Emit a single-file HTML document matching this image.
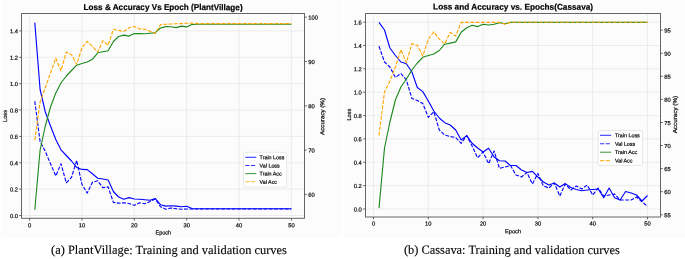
<!DOCTYPE html>
<html><head><meta charset="utf-8"><style>
html,body{margin:0;padding:0;background:#fff;}
body{width:685px;height:259px;overflow:hidden;position:relative;}
svg{position:absolute;left:0;top:0;will-change:transform;text-rendering:geometricPrecision;}
.t{font-family:"Liberation Sans",sans-serif;font-size:5.8px;fill:#111;stroke:#111;stroke-width:0.22px;}
.lg{font-family:"Liberation Sans",sans-serif;font-size:5.35px;fill:#111;stroke:#111;stroke-width:0.22px;}
.ti{font-family:"Liberation Sans",sans-serif;font-size:8.5px;font-weight:bold;fill:#000;stroke:#000;stroke-width:0.2px;}
.al{font-family:"Liberation Sans",sans-serif;font-size:5.8px;fill:#111;stroke:#111;stroke-width:0.22px;}
.cap{font-family:"Liberation Serif",serif;font-size:12.4px;fill:#000;stroke:#000;stroke-width:0.12px;}
</style></head><body>
<svg width="685" height="259" viewBox="0 0 685 259">
<rect x="1" y="0" width="340" height="237.7" fill="#fcfcfc"/><rect x="344" y="0" width="341" height="237.7" fill="#fcfcfc"/>
<path d="M29.6 13.5V218.3 M82.0 13.5V218.3 M134.3 13.5V218.3 M186.7 13.5V218.3 M239.0 13.5V218.3 M291.4 13.5V218.3 M21.5 215.5H304.5 M21.5 189.1H304.5 M21.5 162.8H304.5 M21.5 136.4H304.5 M21.5 110.0H304.5 M21.5 83.7H304.5 M21.5 57.3H304.5 M21.5 30.9H304.5" stroke="#c8c8c8" stroke-width="0.7" stroke-dasharray="0.8 1.2" fill="none"/>
<polyline points="34.8,22.6 40.1,89.5 45.3,112.0 50.5,126.0 55.8,139.5 61.0,149.8 66.3,155.5 71.5,161.0 76.7,167.4 82.0,169.4 87.2,169.6 92.4,173.8 97.7,178.2 102.9,179.0 108.1,180.0 113.4,191.5 118.6,197.0 123.8,199.3 129.1,197.6 134.3,199.0 139.6,199.3 144.8,199.7 150.0,200.3 155.3,198.6 160.5,204.7 165.7,206.1 171.0,205.7 176.2,206.1 181.4,206.7 186.7,206.3 191.9,208.6 197.2,208.8 202.4,208.8 207.6,208.8 212.9,208.8 218.1,208.8 223.3,208.8 228.6,208.8 233.8,208.8 239.0,208.8 244.3,208.8 249.5,208.8 254.7,208.8 260.0,208.8 265.2,208.8 270.5,208.8 275.7,208.8 280.9,208.8 286.2,208.8 291.4,208.8" stroke="#0000ff" stroke-width="1.12" fill="none" stroke-linejoin="round"/>
<polyline points="34.8,101.2 40.1,141.5 45.3,151.4 50.5,163.7 55.8,175.9 61.0,163.8 66.3,182.8 71.5,177.4 76.7,160.4 82.0,184.5 87.2,193.1 92.4,182.3 97.7,180.8 102.9,187.7 108.1,186.9 113.4,202.4 118.6,203.1 123.8,202.8 129.1,203.5 134.3,205.3 139.6,202.8 144.8,203.8 150.0,201.5 155.3,199.0 160.5,206.7 165.7,209.2 171.0,208.0 176.2,208.8 181.4,209.2 186.7,209.0 191.9,209.0 197.2,209.0 202.4,209.0 207.6,209.0 212.9,209.0 218.1,209.0 223.3,209.0 228.6,209.0 233.8,209.0 239.0,209.0 244.3,209.0 249.5,209.0 254.7,209.0 260.0,209.0 265.2,209.0 270.5,209.0 275.7,209.0 280.9,209.0 286.2,209.0 291.4,209.0" stroke="#0000ff" stroke-width="1.12" fill="none" stroke-dasharray="3.8 1.5" stroke-linejoin="round"/>
<polyline points="34.8,209.8 40.1,150.0 45.3,126.0 50.5,107.0 55.8,93.0 61.0,83.0 66.3,76.0 71.5,70.5 76.7,65.2 82.0,63.5 87.2,62.0 92.4,59.3 97.7,52.8 102.9,51.8 108.1,50.7 113.4,41.5 118.6,36.5 123.8,35.1 129.1,36.1 134.3,33.5 139.6,33.6 144.8,33.8 150.0,33.2 155.3,32.6 160.5,28.0 165.7,26.6 171.0,26.8 176.2,27.6 181.4,26.1 186.7,26.9 191.9,24.5 197.2,24.2 202.4,24.2 207.6,24.2 212.9,24.2 218.1,24.2 223.3,24.2 228.6,24.2 233.8,24.2 239.0,24.2 244.3,24.2 249.5,24.2 254.7,24.2 260.0,24.2 265.2,24.2 270.5,24.2 275.7,24.2 280.9,24.2 286.2,24.2 291.4,24.2" stroke="#1c881c" stroke-width="1.12" fill="none" stroke-linejoin="round"/>
<polyline points="34.8,140.1 40.1,102.0 45.3,87.5 50.5,73.0 55.8,58.2 61.0,70.9 66.3,52.0 71.5,54.7 76.7,64.4 82.0,47.7 87.2,41.3 92.4,46.5 97.7,52.0 102.9,40.8 108.1,45.4 113.4,29.2 118.6,30.4 123.8,31.5 129.1,27.7 134.3,26.6 139.6,28.9 144.8,29.2 150.0,31.3 155.3,33.5 160.5,24.6 165.7,24.2 171.0,24.0 176.2,23.8 181.4,23.6 186.7,23.3 191.9,23.0 197.2,23.6 202.4,23.6 207.6,23.6 212.9,23.6 218.1,23.6 223.3,23.6 228.6,23.6 233.8,23.6 239.0,23.6 244.3,23.6 249.5,23.6 254.7,23.6 260.0,23.6 265.2,23.6 270.5,23.6 275.7,23.6 280.9,23.6 286.2,23.6 291.4,23.6" stroke="#ffa500" stroke-width="1.12" fill="none" stroke-dasharray="3.8 1.5" stroke-linejoin="round"/>
<rect x="21.5" y="13.5" width="283.0" height="204.8" fill="none" stroke="#666" stroke-width="1"/>
<path d="M29.6 218.3v2.3 M82.0 218.3v2.3 M134.3 218.3v2.3 M186.7 218.3v2.3 M239.0 218.3v2.3 M291.4 218.3v2.3 M21.5 215.5h-2.3 M21.5 189.1h-2.3 M21.5 162.8h-2.3 M21.5 136.4h-2.3 M21.5 110.0h-2.3 M21.5 83.7h-2.3 M21.5 57.3h-2.3 M21.5 30.9h-2.3 M304.5 17.2h2.3 M304.5 61.5h2.3 M304.5 105.8h2.3 M304.5 150.1h2.3 M304.5 194.4h2.3" stroke="#444" stroke-width="0.8" fill="none"/>
<text transform="translate(29.60 227.30) matrix(1 0.001 0 1 0 0)" class="t" text-anchor="middle">0</text>
<text transform="translate(81.96 227.30) matrix(1 0.001 0 1 0 0)" class="t" text-anchor="middle">10</text>
<text transform="translate(134.32 227.30) matrix(1 0.001 0 1 0 0)" class="t" text-anchor="middle">20</text>
<text transform="translate(186.68 227.30) matrix(1 0.001 0 1 0 0)" class="t" text-anchor="middle">30</text>
<text transform="translate(239.04 227.30) matrix(1 0.001 0 1 0 0)" class="t" text-anchor="middle">40</text>
<text transform="translate(291.40 227.30) matrix(1 0.001 0 1 0 0)" class="t" text-anchor="middle">50</text>
<text transform="translate(18.00 217.90) matrix(1 0.001 0 1 0 0)" class="t" text-anchor="end">0.0</text>
<text transform="translate(18.00 191.53) matrix(1 0.001 0 1 0 0)" class="t" text-anchor="end">0.2</text>
<text transform="translate(18.00 165.16) matrix(1 0.001 0 1 0 0)" class="t" text-anchor="end">0.4</text>
<text transform="translate(18.00 138.79) matrix(1 0.001 0 1 0 0)" class="t" text-anchor="end">0.6</text>
<text transform="translate(18.00 112.42) matrix(1 0.001 0 1 0 0)" class="t" text-anchor="end">0.8</text>
<text transform="translate(18.00 86.05) matrix(1 0.001 0 1 0 0)" class="t" text-anchor="end">1.0</text>
<text transform="translate(18.00 59.68) matrix(1 0.001 0 1 0 0)" class="t" text-anchor="end">1.2</text>
<text transform="translate(18.00 33.31) matrix(1 0.001 0 1 0 0)" class="t" text-anchor="end">1.4</text>
<text transform="translate(308.30 19.60) matrix(1 0.001 0 1 0 0)" class="t">100</text>
<text transform="translate(308.30 63.90) matrix(1 0.001 0 1 0 0)" class="t">90</text>
<text transform="translate(308.30 108.20) matrix(1 0.001 0 1 0 0)" class="t">80</text>
<text transform="translate(308.30 152.50) matrix(1 0.001 0 1 0 0)" class="t">70</text>
<text transform="translate(308.30 196.80) matrix(1 0.001 0 1 0 0)" class="t">60</text>
<rect x="243.5" y="152.3" width="43.1" height="34.8" rx="1.2" fill="#fff" fill-opacity="0.85" stroke="#d8d8d8" stroke-width="0.6"/>
<line x1="245.3" y1="157.3" x2="256.3" y2="157.3" stroke="#0000ff" stroke-opacity="0.8" stroke-width="1.1" />
<text transform="translate(259.60 159.20) matrix(1 0.001 0 1 0 0)" class="lg">Train Loss</text>
<line x1="245.3" y1="165.5" x2="256.3" y2="165.5" stroke="#0000ff" stroke-opacity="0.8" stroke-width="1.1" stroke-dasharray="4.2 1.5"/>
<text transform="translate(259.60 167.40) matrix(1 0.001 0 1 0 0)" class="lg">Val Loss</text>
<line x1="245.3" y1="173.6" x2="256.3" y2="173.6" stroke="#1c881c" stroke-opacity="0.8" stroke-width="1.1" />
<text transform="translate(259.60 175.50) matrix(1 0.001 0 1 0 0)" class="lg">Train Acc</text>
<line x1="245.3" y1="181.8" x2="256.3" y2="181.8" stroke="#ffa500" stroke-opacity="0.8" stroke-width="1.1" stroke-dasharray="4.2 1.5"/>
<text transform="translate(259.60 183.70) matrix(1 0.001 0 1 0 0)" class="lg">Val Acc</text>
<text transform="translate(83.60 10.00) matrix(1 0.001 0 1 0 0)" class="ti" textLength="159.0" lengthAdjust="spacingAndGlyphs">Loss &amp; Accuracy Vs Epoch (PlantVillage)</text>
<text transform="translate(6.90 116.00) rotate(-90) matrix(1 0.001 0 1 0 0)" class="al" text-anchor="middle" textLength="11.9" lengthAdjust="spacingAndGlyphs">Loss</text>
<text transform="translate(163.30 234.60) matrix(1 0.001 0 1 0 0)" class="al" text-anchor="middle" textLength="15.7" lengthAdjust="spacingAndGlyphs">Epoch</text>
<text transform="translate(324.20 116.50) rotate(-90) matrix(1 0.001 0 1 0 0)" class="al" text-anchor="middle" textLength="36.9" lengthAdjust="spacingAndGlyphs">Accuracy (%)</text>
<path d="M373.5 13.5V217.0 M428.3 13.5V217.0 M483.1 13.5V217.0 M537.9 13.5V217.0 M592.7 13.5V217.0 M647.5 13.5V217.0 M365.5 209.0H660.5 M365.5 185.6H660.5 M365.5 162.3H660.5 M365.5 138.9H660.5 M365.5 115.6H660.5 M365.5 92.2H660.5 M365.5 68.8H660.5 M365.5 45.5H660.5 M365.5 22.1H660.5" stroke="#c8c8c8" stroke-width="0.7" stroke-dasharray="0.8 1.2" fill="none"/>
<polyline points="379.0,22.3 384.5,30.0 389.9,48.0 395.4,55.5 400.9,62.0 406.4,63.7 411.9,72.0 417.3,87.5 422.8,91.6 428.3,101.0 433.8,111.0 439.3,118.0 444.7,122.7 450.2,125.0 455.7,130.0 461.2,140.0 466.7,135.6 472.1,143.3 477.6,148.0 483.1,152.0 488.6,148.2 494.1,157.0 499.5,160.7 505.0,161.0 510.5,165.5 516.0,165.5 521.5,170.0 526.9,172.5 532.4,171.4 537.9,177.0 543.4,182.0 548.9,185.0 554.3,183.0 559.8,187.0 565.3,183.6 570.8,187.5 576.3,189.5 581.7,190.7 587.2,190.0 592.7,189.5 598.2,189.0 603.7,197.8 609.1,188.0 614.6,197.8 620.1,200.0 625.6,191.5 631.1,193.0 636.5,195.0 642.0,201.0 647.5,195.5" stroke="#0000ff" stroke-width="1.12" fill="none" stroke-linejoin="round"/>
<polyline points="379.0,46.3 384.5,62.0 389.9,67.0 395.4,77.4 400.9,73.5 406.4,80.0 411.9,98.5 417.3,100.5 422.8,103.5 428.3,117.3 433.8,111.6 439.3,130.0 444.7,135.0 450.2,136.5 455.7,137.5 461.2,143.3 466.7,135.6 472.1,146.0 477.6,157.8 483.1,152.0 488.6,163.6 494.1,151.0 499.5,168.4 505.0,167.0 510.5,165.5 516.0,175.0 521.5,177.0 526.9,172.4 532.4,184.0 537.9,173.4 543.4,186.0 548.9,188.0 554.3,183.0 559.8,196.0 565.3,184.0 570.8,190.0 576.3,186.0 581.7,189.0 587.2,185.0 592.7,195.0 598.2,188.0 603.7,196.0 609.1,195.0 614.6,194.0 620.1,200.0 625.6,200.0 631.1,200.0 636.5,197.0 642.0,201.7 647.5,206.5" stroke="#0000ff" stroke-width="1.12" fill="none" stroke-dasharray="3.8 1.5" stroke-linejoin="round"/>
<polyline points="379.0,208.1 384.5,148.0 389.9,122.0 395.4,100.0 400.9,87.0 406.4,79.0 411.9,70.0 417.3,63.0 422.8,57.3 428.3,55.5 433.8,54.0 439.3,50.5 444.7,44.2 450.2,43.1 455.7,41.9 461.2,32.3 466.7,27.7 472.1,25.3 477.6,26.6 483.1,24.3 488.6,25.0 494.1,24.3 499.5,22.6 505.0,23.8 510.5,22.4 516.0,22.4 521.5,22.4 526.9,22.4 532.4,22.4 537.9,22.4 543.4,22.4 548.9,22.4 554.3,22.4 559.8,22.4 565.3,22.4 570.8,22.4 576.3,22.4 581.7,22.4 587.2,22.4 592.7,22.4 598.2,22.4 603.7,22.4 609.1,22.4 614.6,22.4 620.1,22.4 625.6,22.4 631.1,22.4 636.5,22.4 642.0,22.4 647.5,22.4" stroke="#1c881c" stroke-width="1.12" fill="none" stroke-linejoin="round"/>
<polyline points="379.0,135.5 384.5,92.0 389.9,81.0 395.4,67.0 400.9,49.6 406.4,62.7 411.9,43.6 417.3,45.4 422.8,56.0 428.3,39.2 433.8,31.8 439.3,39.2 444.7,43.9 450.2,32.3 455.7,36.1 461.2,22.4 466.7,22.4 472.1,22.4 477.6,22.4 483.1,22.4 488.6,22.4 494.1,22.4 499.5,22.4 505.0,24.1 510.5,22.3 516.0,22.3 521.5,22.3 526.9,22.3 532.4,22.3 537.9,22.3 543.4,22.3 548.9,22.3 554.3,22.3 559.8,22.3 565.3,22.3 570.8,22.3 576.3,22.3 581.7,22.3 587.2,22.3 592.7,22.3 598.2,22.3 603.7,22.3 609.1,22.3 614.6,22.3 620.1,22.3 625.6,22.3 631.1,22.3 636.5,22.3 642.0,22.3 647.5,22.3" stroke="#ffa500" stroke-width="1.12" fill="none" stroke-dasharray="3.8 1.5" stroke-linejoin="round"/>
<rect x="365.5" y="13.5" width="295.0" height="203.5" fill="none" stroke="#666" stroke-width="1"/>
<path d="M373.5 217.0v2.3 M428.3 217.0v2.3 M483.1 217.0v2.3 M537.9 217.0v2.3 M592.7 217.0v2.3 M647.5 217.0v2.3 M365.5 209.0h-2.3 M365.5 185.6h-2.3 M365.5 162.3h-2.3 M365.5 138.9h-2.3 M365.5 115.6h-2.3 M365.5 92.2h-2.3 M365.5 68.8h-2.3 M365.5 45.5h-2.3 M365.5 22.1h-2.3 M660.5 30.2h2.3 M660.5 53.3h2.3 M660.5 76.3h2.3 M660.5 99.4h2.3 M660.5 122.5h2.3 M660.5 145.5h2.3 M660.5 168.6h2.3 M660.5 191.7h2.3 M660.5 214.8h2.3" stroke="#444" stroke-width="0.8" fill="none"/>
<text transform="translate(373.50 225.50) matrix(1 0.001 0 1 0 0)" class="t" text-anchor="middle">0</text>
<text transform="translate(428.30 225.50) matrix(1 0.001 0 1 0 0)" class="t" text-anchor="middle">10</text>
<text transform="translate(483.10 225.50) matrix(1 0.001 0 1 0 0)" class="t" text-anchor="middle">20</text>
<text transform="translate(537.90 225.50) matrix(1 0.001 0 1 0 0)" class="t" text-anchor="middle">30</text>
<text transform="translate(592.70 225.50) matrix(1 0.001 0 1 0 0)" class="t" text-anchor="middle">40</text>
<text transform="translate(647.50 225.50) matrix(1 0.001 0 1 0 0)" class="t" text-anchor="middle">50</text>
<text transform="translate(361.80 211.40) matrix(1 0.001 0 1 0 0)" class="t" text-anchor="end">0.0</text>
<text transform="translate(361.80 188.04) matrix(1 0.001 0 1 0 0)" class="t" text-anchor="end">0.2</text>
<text transform="translate(361.80 164.68) matrix(1 0.001 0 1 0 0)" class="t" text-anchor="end">0.4</text>
<text transform="translate(361.80 141.32) matrix(1 0.001 0 1 0 0)" class="t" text-anchor="end">0.6</text>
<text transform="translate(361.80 117.96) matrix(1 0.001 0 1 0 0)" class="t" text-anchor="end">0.8</text>
<text transform="translate(361.80 94.60) matrix(1 0.001 0 1 0 0)" class="t" text-anchor="end">1.0</text>
<text transform="translate(361.80 71.24) matrix(1 0.001 0 1 0 0)" class="t" text-anchor="end">1.2</text>
<text transform="translate(361.80 47.88) matrix(1 0.001 0 1 0 0)" class="t" text-anchor="end">1.4</text>
<text transform="translate(361.80 24.52) matrix(1 0.001 0 1 0 0)" class="t" text-anchor="end">1.6</text>
<text transform="translate(664.20 32.60) matrix(1 0.001 0 1 0 0)" class="t">95</text>
<text transform="translate(664.20 55.67) matrix(1 0.001 0 1 0 0)" class="t">90</text>
<text transform="translate(664.20 78.74) matrix(1 0.001 0 1 0 0)" class="t">85</text>
<text transform="translate(664.20 101.81) matrix(1 0.001 0 1 0 0)" class="t">80</text>
<text transform="translate(664.20 124.88) matrix(1 0.001 0 1 0 0)" class="t">75</text>
<text transform="translate(664.20 147.95) matrix(1 0.001 0 1 0 0)" class="t">70</text>
<text transform="translate(664.20 171.02) matrix(1 0.001 0 1 0 0)" class="t">65</text>
<text transform="translate(664.20 194.09) matrix(1 0.001 0 1 0 0)" class="t">60</text>
<text transform="translate(664.20 217.16) matrix(1 0.001 0 1 0 0)" class="t">55</text>
<rect x="598.1" y="130.6" width="44.3" height="34.8" rx="1.2" fill="#fff" fill-opacity="0.85" stroke="#d8d8d8" stroke-width="0.6"/>
<line x1="600.0" y1="135.3" x2="611.2" y2="135.3" stroke="#0000ff" stroke-opacity="0.8" stroke-width="1.1" />
<text transform="translate(615.00 137.20) matrix(1 0.001 0 1 0 0)" class="lg">Train Loss</text>
<line x1="600.0" y1="143.8" x2="611.2" y2="143.8" stroke="#0000ff" stroke-opacity="0.8" stroke-width="1.1" stroke-dasharray="4.2 1.5"/>
<text transform="translate(615.00 145.70) matrix(1 0.001 0 1 0 0)" class="lg">Val Loss</text>
<line x1="600.0" y1="152.2" x2="611.2" y2="152.2" stroke="#1c881c" stroke-opacity="0.8" stroke-width="1.1" />
<text transform="translate(615.00 154.10) matrix(1 0.001 0 1 0 0)" class="lg">Train Acc</text>
<line x1="600.0" y1="160.6" x2="611.2" y2="160.6" stroke="#ffa500" stroke-opacity="0.8" stroke-width="1.1" stroke-dasharray="4.2 1.5"/>
<text transform="translate(615.00 162.50) matrix(1 0.001 0 1 0 0)" class="lg">Val Acc</text>
<text transform="translate(433.10 9.60) matrix(1 0.001 0 1 0 0)" class="ti" textLength="160.0" lengthAdjust="spacingAndGlyphs">Loss and Accuracy vs. Epochs(Cassava)</text>
<text transform="translate(350.90 114.70) rotate(-90) matrix(1 0.001 0 1 0 0)" class="al" text-anchor="middle" textLength="11.8" lengthAdjust="spacingAndGlyphs">Loss</text>
<text transform="translate(513.00 233.30) matrix(1 0.001 0 1 0 0)" class="al" text-anchor="middle" textLength="16.2" lengthAdjust="spacingAndGlyphs">Epoch</text>
<text transform="translate(677.00 114.60) rotate(-90) matrix(1 0.001 0 1 0 0)" class="al" text-anchor="middle" textLength="37.5" lengthAdjust="spacingAndGlyphs">Accuracy (%)</text>
<text transform="translate(51.10 253.80) matrix(1 0.001 0 1 0 0)" class="cap" textLength="235.8" lengthAdjust="spacingAndGlyphs">(a) PlantVillage: Training and validation curves</text>
<text transform="translate(403.90 253.80) matrix(1 0.001 0 1 0 0)" class="cap" textLength="216.0" lengthAdjust="spacingAndGlyphs">(b) Cassava: Training and validation curves</text>
</svg>
</body></html>
